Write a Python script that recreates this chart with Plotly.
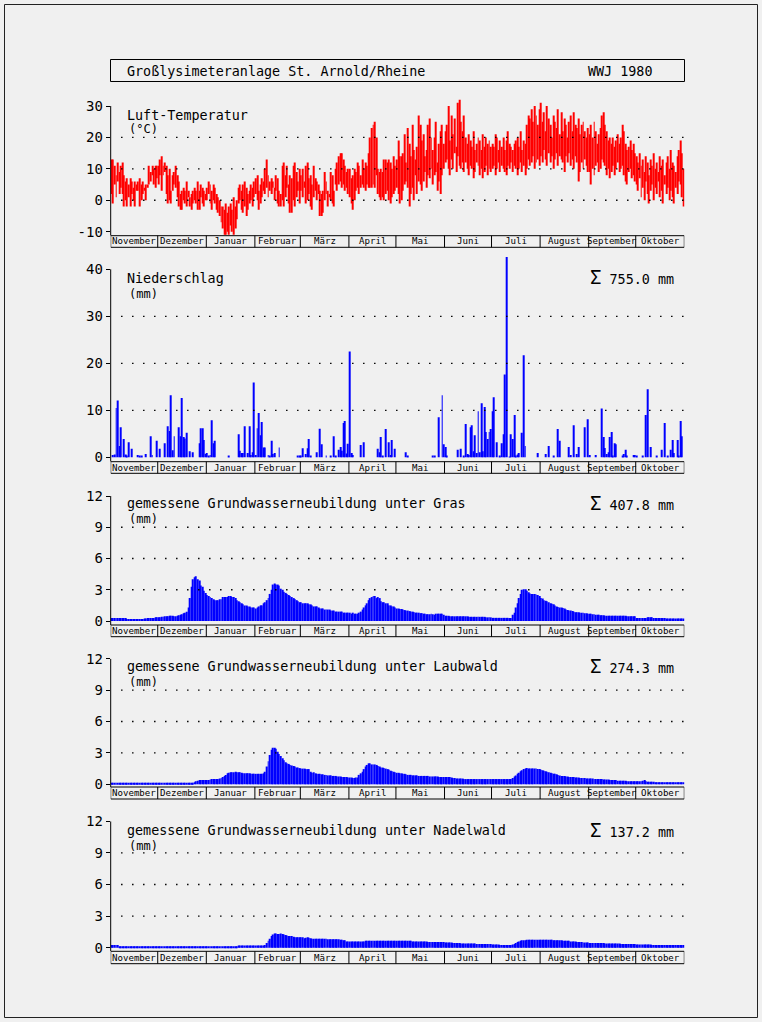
import plotly.graph_objects as go

W, H = 762, 1022

# ---------------- data ----------------
MONTHS = ["November", "Dezember", "Januar", "Februar", "März", "April",
          "Mai", "Juni", "Juli", "August", "September", "Oktober"]
MONTH_DAYS = [30, 31, 31, 29, 31, 30, 31, 30, 31, 31, 30, 31]

# Luft-Temperatur, daily max / min (°C)
TMAX_NOV = [13, 13, 11, 8, 12, 9, 11, 12, 8, 6, 7, 5, 7, 6, 4, 6, 5, 6, 7, 5, 6, 4, 5, 5, 11, 9, 11, 10, 11, 11]
TMIN_NOV = [2, -1, 5, 1, 6, 2, 4, 2, -2, 0, -2, 1, -2, 2, 0, -2, 3, 3, -2, 0, 2, 3, 0, 4, 5, 6, 8, 5, 4, 7]
TMAX_DEC = [11, 13, 14, 11, 12, 11, 8, 10, 3, 8, 9, 11, 8, 6, 2, 3, 4, 3, 6, 3, 1, 2, 3, 4, 3, 6, 3, 5, 4, 3, 2]
TMIN_DEC = [5, 8, 3, 8, 9, 2, -1, 0, -1, 3, 5, 4, 1, -2, -3, -3, 0, -1, -2, 1, -2, -3, -1, 0, -1, -3, -3, 1, -1, -2, 0]
TMAX_JAN = [4, 6, 5, 3, 5, 4, 2, 1, 0, -2, -2, -3, -1, -4, -2, -1, -3, 1, -2, 0, 4, 5, 3, 5, 6, 4, 2, 3, 5, 4, 6]
TMIN_JAN = [0, 2, -1, -3, 0, -1, -3, -4, -5, -7, -9, -11, -11, -10, -11, -8, -10, -11, -9, -6, -1, 0, -3, -4, -2, -5, -3, -1, 0, -2, 1]
TMAX_FEB = [7, 8, 3, 5, 7, 6, 10, 13, 8, 6, 7, 6, 4, 8, 7, 3, 2, 11, 12, 8, 11, 5, 8, 7, 11, 12, 9, 6, 10]
TMIN_FEB = [2, 0, -3, -1, 1, 3, 2, 4, 1, 3, 2, 4, 0, 3, -1, -2, -2, 0, -2, 1, 4, -1, -4, -4, 0, -2, 1, 3, -1]
TMAX_MAR = [8, 10, 6, 11, 12, 7, 8, 5, 11, 7, 6, 5, 3, 2, 3, 9, 6, 3, 2, 9, 8, 3, 10, 12, 14, 15, 15, 13, 11, 9, 10]
TMIN_MAR = [3, 1, 4, -1, 0, 2, -2, -3, 1, 3, 0, 2, -5, -5, -4, 0, 2, -2, 1, 0, -1, -2, 5, 3, 5, 6, 4, 5, 3, 4, 2]
TMAX_APR = [10, 7, 8, 10, 9, 12, 11, 8, 13, 10, 12, 11, 15, 20, 23, 24, 25, 20, 10, 9, 10, 9, 13, 13, 12, 13, 12, 10, 14, 11]
TMIN_APR = [1, -1, -3, 0, 3, 4, 2, 4, 5, 4, 3, 5, 4, 4, 4, 5, 4, 8, 2, 1, 0, 1, 0, 2, 3, 0, -1, 1, 2, 3]
TMAX_MAY = [13, 19, 14, 14, 15, 21, 12, 23, 18, 14, 24, 16, 13, 17, 27, 24, 19, 21, 14, 16, 24, 26, 20, 16, 20, 25, 12, 18, 22, 24, 18]
TMIN_MAY = [4, 2, -1, 0, 3, 5, 6, 4, -2, 2, 4, 0, 8, 2, 6, 5, 3, 6, 9, 4, 8, 7, 10, 5, 8, 9, 3, 6, 2, 8, 10]
TMAX_JUN = [22, 24, 30, 19, 27, 21, 26, 17, 31, 32, 25, 22, 27, 20, 18, 21, 19, 17, 22, 16, 18, 20, 19, 16, 21, 17, 20, 18, 19, 17]
TMIN_JUN = [12, 13, 10, 8, 13, 10, 15, 9, 14, 11, 10, 12, 9, 12, 10, 8, 11, 10, 7, 9, 12, 11, 8, 10, 7, 9, 11, 8, 10, 9]
TMAX_JUL = [18, 17, 21, 20, 16, 19, 17, 20, 16, 19, 22, 18, 17, 16, 18, 19, 20, 17, 22, 16, 19, 18, 24, 27, 26, 29, 25, 30, 27, 24, 29]
TMIN_JUL = [10, 11, 8, 10, 12, 9, 11, 10, 9, 8, 11, 10, 12, 9, 11, 10, 8, 10, 12, 9, 11, 8, 10, 13, 11, 12, 14, 10, 12, 13, 11]
TMAX_AUG = [31, 25, 28, 22, 30, 26, 24, 20, 27, 25, 23, 29, 21, 28, 22, 26, 24, 20, 25, 27, 22, 28, 24, 23, 26, 21, 24, 25, 22, 20, 23]
TMIN_AUG = [14, 12, 16, 13, 11, 15, 12, 14, 10, 13, 15, 11, 14, 13, 12, 9, 14, 12, 15, 11, 13, 10, 14, 12, 6, 9, 12, 10, 13, 11, 9]
TMAX_SEP = [21, 24, 20, 25, 22, 18, 21, 23, 27, 28, 24, 22, 19, 20, 18, 20, 17, 19, 21, 18, 20, 24, 22, 18, 16, 17, 19, 16, 18, 15]
TMIN_SEP = [9, 5, 10, 8, 11, 12, 9, 10, 13, 12, 11, 8, 10, 7, 9, 11, 8, 10, 12, 9, 10, 11, 8, 6, 5, 9, 10, 7, 8, 6]
TMAX_OCT = [14, 12, 15, 11, 13, 9, 14, 12, 8, 13, 11, 15, 10, 12, 9, 14, 11, 13, 8, 12, 14, 10, 16, 12, 11, 9, 14, 16, 19, 15, 10]
TMIN_OCT = [5, 3, 7, 1, 4, 0, 6, 2, -1, 3, 5, 0, 4, 2, 6, 1, 3, -1, 5, 2, 4, 0, 3, 1, -1, 4, 2, 6, 5, 1, -2]

# Niederschlag: day index (0 = 1 Nov) and amount (mm)
RAIN_DAY = [1, 2, 3, 4, 5, 6, 8, 9, 10, 11, 13, 17, 18, 19, 22, 25, 26, 29,
            31, 34, 36, 37, 38, 39, 40, 43, 44, 45, 46, 47, 48, 50, 52, 56, 57, 58, 59, 60,
            61, 62, 63, 64, 65, 66, 75, 81, 82, 83, 84, 85, 87, 88, 89, 90, 91,
            92, 93, 94, 95, 96, 97, 98, 100, 101, 102, 103, 104, 107,
            119, 120, 121, 122, 124, 125, 126, 127, 131, 133, 134, 137, 140, 142, 143, 145, 146, 147, 148, 149, 150, 151,
            152, 153, 154, 159, 161, 170, 171, 172, 173, 175, 177, 178, 179, 181,
            188, 189, 205, 206, 209, 211, 212,
            213, 214, 221, 223, 225, 226, 227, 228, 229, 230, 231, 232, 233, 234, 235, 236, 237, 238, 239, 240, 241, 242,
            243, 244, 246, 248, 249, 250, 251, 252, 254, 255, 256, 257, 258, 259, 260, 262, 263, 264, 272,
            277, 279, 282, 285, 286, 292, 293, 295, 297, 298, 302, 304,
            305, 309, 313, 314, 315, 316, 317, 318, 319, 320, 321, 322, 326, 327, 328, 329, 333, 334,
            335, 339, 341, 342, 344, 348, 351, 353, 355, 357, 358, 359, 361, 362, 363, 364]
RAIN_MM = [0.5, 0.6, 10.5, 12.1, 2.4, 6.4, 3.9, 0.6, 0.3, 3.2, 1.8, 0.5, 0.3, 0.2, 0.7, 4.5, 0.5, 3.5,
           1.8, 3.0, 6.6, 5.6, 13.2, 1.5, 4.5, 6.4, 4.5, 12.6, 4.3, 4.0, 5.2, 1.3, 1.1, 3.0, 6.2, 6.2, 3.7, 0.7,
           0.9, 0.3, 0.5, 7.9, 3.0, 3.5, 0.3, 4.9, 1.4, 0.9, 0.9, 6.6, 0.9, 6.6, 0.5, 1.1, 15.9,
           0.5, 6.2, 9.4, 4.7, 7.5, 2.1, 2.1, 0.5, 0.3, 3.5, 0.7, 0.9, 2.1,
           0.3, 0.3, 0.3, 1.9, 0.7, 1.9, 3.9, 0.2, 1.1, 6.1, 2.8, 0.2, 0.3, 4.5, 0.2, 1.6, 2.2, 1.4, 7.3, 7.7, 0.8, 2.9,
           22.5, 0.9, 0.5, 2.6, 3.2, 1.8, 1.1, 4.3, 0.2, 6.0, 3.2, 0.5, 3.7, 1.8,
           1.1, 0.2, 0.2, 0.3, 8.5, 13.2, 2.8,
           2.2, 0.3, 1.6, 1.8, 0.3, 7.1, 0.7, 0.5, 6.4, 6.8, 1.3, 4.7, 0.9, 9.8, 1.1, 11.5, 1.3, 10.7, 5.4, 3.9, 5.4, 6.0,
           9.8, 12.8, 3.2, 0.2, 3.0, 4.9, 17.6, 42.6, 0.1, 4.9, 3.9, 9.0, 0.3, 0.6, 0.9, 5.2, 21.7, 2.4, 0.9,
           0.7, 2.4, 0.3, 6.0, 3.5, 2.2, 0.5, 6.8, 0.7, 2.2, 6.4, 8.1,
           0.5, 0.5, 10.4, 4.3, 2.0, 0.7, 1.1, 4.3, 5.4, 0.2, 3.0, 2.8, 0.2, 0.7, 1.6, 0.2, 0.5, 0.5,
           0.3, 0.3, 9.0, 14.5, 2.2, 0.3, 1.6, 7.3, 0.3, 1.6, 3.7, 0.9, 3.7, 0.3, 7.7, 4.5]

# Grundwasserneubildung unter Gras (mm/d)
GRAS_NOV = [0.3, 0.3, 0.3, 0.3, 0.3, 0.3, 0.3, 0.3, 0.3, 0.3, 0.2, 0.2, 0.2, 0.2, 0.2, 0.2, 0.2, 0.2, 0.2, 0.2,
            0.2, 0.25, 0.25, 0.3, 0.3, 0.3, 0.3, 0.3, 0.35, 0.35]
GRAS_DEC = [0.35, 0.35, 0.4, 0.4, 0.45, 0.45, 0.45, 0.5, 0.5, 0.5, 0.45, 0.45, 0.5, 0.55, 0.6, 0.65, 0.75, 0.8, 0.9, 1.3,
            2.2, 3.3, 4.0, 4.2, 4.3, 4.0, 3.9, 3.4, 3.3, 2.9, 2.7]
GRAS_JAN = [2.5, 2.4, 2.3, 2.2, 2.1, 2.0, 2.0, 2.0, 2.1, 2.1, 2.3, 2.3, 2.3, 2.3, 2.4, 2.4, 2.3, 2.3, 2.2, 2.0,
            1.9, 1.8, 1.7, 1.6, 1.5, 1.5, 1.4, 1.4, 1.3, 1.3, 1.3]
GRAS_FEB = [1.2, 1.3, 1.4, 1.5, 1.5, 1.7, 1.8, 2.0, 2.2, 2.6, 3.0, 3.5, 3.6, 3.5, 3.5, 3.4, 3.1, 3.0, 2.8, 2.7,
            2.6, 2.5, 2.4, 2.3, 2.2, 2.1, 2.0, 1.9, 1.8]
GRAS_MAR = [1.8, 1.7, 1.7, 1.7, 1.7, 1.6, 1.6, 1.5, 1.4, 1.4, 1.4, 1.3, 1.2, 1.2, 1.2, 1.1, 1.1, 1.1, 1.1, 1.0,
            1.0, 1.0, 0.9, 0.9, 0.9, 0.9, 0.9, 0.8, 0.8, 0.8, 0.8]
GRAS_APR = [0.8, 0.7, 0.8, 0.7, 0.7, 0.7, 0.8, 0.9, 1.1, 1.3, 1.5, 1.7, 2.0, 2.2, 2.3, 2.4, 2.4, 2.2, 2.3, 2.2,
            1.9, 1.8, 1.8, 1.7, 1.7, 1.5, 1.5, 1.4, 1.4, 1.3]
GRAS_MAY = [1.2, 1.2, 1.15, 1.15, 1.1, 1.05, 1.0, 1.0, 0.95, 0.9, 0.9, 0.85, 0.8, 0.8, 0.8, 0.75, 0.75, 0.7, 0.7, 0.65,
            0.65, 0.65, 0.7, 0.65, 0.6, 0.7, 0.7, 0.7, 0.7, 0.7, 0.6]
GRAS_JUN = [0.5, 0.5, 0.5, 0.45, 0.45, 0.45, 0.45, 0.45, 0.45, 0.45, 0.45, 0.45, 0.45, 0.45, 0.45, 0.4, 0.4, 0.4, 0.4, 0.4,
            0.4, 0.4, 0.4, 0.4, 0.4, 0.4, 0.35, 0.35, 0.35, 0.35]
GRAS_JUL = [0.3, 0.3, 0.3, 0.3, 0.3, 0.3, 0.3, 0.3, 0.3, 0.3, 0.3, 0.3, 0.3, 0.6, 0.8, 1.3, 1.7, 2.2, 2.6, 3.0,
            3.05, 3.05, 2.9, 2.75, 2.65, 2.6, 2.6, 2.6, 2.55, 2.5, 2.4]
GRAS_AUG = [2.2, 2.15, 2.0, 1.95, 1.9, 1.8, 1.7, 1.65, 1.6, 1.5, 1.4, 1.35, 1.3, 1.3, 1.25, 1.2, 1.1, 1.05, 1.0, 1.0,
            0.95, 0.9, 0.85, 0.85, 0.85, 0.8, 0.8, 0.8, 0.75, 0.75, 0.7]
GRAS_SEP = [0.7, 0.7, 0.65, 0.65, 0.6, 0.6, 0.6, 0.55, 0.55, 0.55, 0.5, 0.5, 0.5, 0.5, 0.5, 0.5, 0.5, 0.5, 0.5, 0.5,
            0.5, 0.5, 0.5, 0.5, 0.45, 0.45, 0.45, 0.45, 0.45, 0.45]
GRAS_OCT = [0.3, 0.3, 0.3, 0.3, 0.3, 0.3, 0.3, 0.35, 0.35, 0.35, 0.35, 0.3, 0.3, 0.3, 0.3, 0.3, 0.3, 0.3, 0.3, 0.25,
            0.25, 0.25, 0.25, 0.25, 0.25, 0.25, 0.25, 0.25, 0.25, 0.25, 0.25]

# Grundwasserneubildung unter Laubwald (mm/d)
LAUB_NOV = [0.15, 0.15, 0.15, 0.15, 0.15, 0.15, 0.15, 0.15, 0.15, 0.15, 0.15, 0.15, 0.15, 0.15, 0.15, 0.15, 0.15, 0.15, 0.15, 0.15,
            0.15, 0.15, 0.15, 0.15, 0.15, 0.15, 0.15, 0.15, 0.15, 0.15]
LAUB_DEC = [0.15, 0.15, 0.15, 0.15, 0.15, 0.15, 0.15, 0.15, 0.15, 0.15, 0.15, 0.15, 0.15, 0.15, 0.15, 0.15, 0.15, 0.15, 0.15, 0.15,
            0.15, 0.15, 0.15, 0.2, 0.3, 0.35, 0.4, 0.4, 0.4, 0.4, 0.4]
LAUB_JAN = [0.4, 0.4, 0.45, 0.5, 0.5, 0.5, 0.5, 0.5, 0.55, 0.6, 0.7, 0.8, 0.9, 1.05, 1.1, 1.15, 1.15, 1.15, 1.2, 1.15,
            1.15, 1.15, 1.1, 1.05, 1.05, 1.05, 1.05, 1.05, 1.0, 1.0, 1.0]
LAUB_FEB = [1.0, 1.0, 1.0, 1.0, 1.0, 1.05, 1.2, 1.7, 2.2, 2.8, 3.3, 3.5, 3.5, 3.4, 3.1, 2.9, 2.7, 2.5, 2.3, 2.1,
            2.0, 1.95, 1.85, 1.8, 1.75, 1.7, 1.6, 1.6, 1.55]
LAUB_MAR = [1.5, 1.5, 1.5, 1.45, 1.45, 1.45, 1.2, 1.1, 1.15, 1.05, 1.0, 1.0, 1.0, 0.95, 0.95, 0.9, 0.9, 0.85, 0.85, 0.85,
            0.8, 0.8, 0.8, 0.75, 0.75, 0.75, 0.7, 0.7, 0.7, 0.7, 0.65]
LAUB_APR = [0.65, 0.65, 0.6, 0.6, 0.65, 0.65, 0.9, 1.05, 1.2, 1.45, 1.7, 1.85, 2.0, 2.0, 1.9, 1.9, 1.9, 1.85, 1.75, 1.7,
            1.6, 1.6, 1.55, 1.5, 1.45, 1.4, 1.3, 1.25, 1.2, 1.15]
LAUB_MAY = [1.1, 1.1, 1.05, 1.05, 1.0, 1.0, 0.95, 0.9, 0.9, 0.9, 0.85, 0.85, 0.85, 0.85, 0.8, 0.8, 0.8, 0.8, 0.8, 0.8,
            0.8, 0.75, 0.75, 0.75, 0.75, 0.75, 0.75, 0.7, 0.7, 0.7, 0.7]
LAUB_JUN = [0.7, 0.7, 0.7, 0.7, 0.65, 0.6, 0.6, 0.55, 0.55, 0.55, 0.55, 0.55, 0.5, 0.5, 0.5, 0.5, 0.5, 0.5, 0.5, 0.5,
            0.5, 0.5, 0.5, 0.5, 0.5, 0.5, 0.5, 0.5, 0.5, 0.5]
LAUB_JUL = [0.5, 0.5, 0.5, 0.5, 0.5, 0.5, 0.5, 0.5, 0.5, 0.5, 0.5, 0.5, 0.5, 0.6, 0.75, 0.85, 1.0, 1.1, 1.25, 1.35,
            1.45, 1.5, 1.55, 1.5, 1.5, 1.5, 1.5, 1.5, 1.5, 1.45, 1.45]
LAUB_AUG = [1.4, 1.35, 1.3, 1.25, 1.2, 1.15, 1.1, 1.05, 1.0, 1.0, 0.95, 0.9, 0.85, 0.8, 0.8, 0.8, 0.75, 0.75, 0.7, 0.7,
            0.7, 0.7, 0.65, 0.65, 0.65, 0.6, 0.6, 0.6, 0.6, 0.55, 0.55]
LAUB_SEP = [0.55, 0.55, 0.55, 0.5, 0.5, 0.5, 0.5, 0.5, 0.5, 0.45, 0.45, 0.45, 0.45, 0.4, 0.4, 0.4, 0.4, 0.4, 0.35, 0.35,
            0.35, 0.35, 0.35, 0.35, 0.3, 0.3, 0.3, 0.3, 0.3, 0.3]
LAUB_OCT = [0.3, 0.3, 0.3, 0.3, 0.35, 0.4, 0.3, 0.25, 0.25, 0.25, 0.25, 0.25, 0.2, 0.2, 0.2, 0.2, 0.2, 0.2, 0.2, 0.2,
            0.2, 0.2, 0.2, 0.2, 0.2, 0.2, 0.2, 0.2, 0.2, 0.2, 0.2]

# Grundwasserneubildung unter Nadelwald (mm/d)
NADEL_NOV = [0.25, 0.25, 0.25, 0.25, 0.25, 0.13, 0.13, 0.13, 0.13, 0.13, 0.13, 0.13, 0.13, 0.13, 0.13, 0.13, 0.13, 0.13, 0.13, 0.13,
             0.13, 0.13, 0.13, 0.13, 0.13, 0.13, 0.13, 0.13, 0.13, 0.13]
NADEL_DEC = [0.13, 0.13, 0.13, 0.13, 0.13, 0.13, 0.13, 0.13, 0.13, 0.13, 0.13, 0.13, 0.13, 0.13, 0.13, 0.13, 0.13, 0.13, 0.13, 0.13,
             0.13, 0.13, 0.13, 0.13, 0.13, 0.13, 0.13, 0.13, 0.13, 0.13, 0.13]
NADEL_JAN = [0.13, 0.13, 0.13, 0.13, 0.13, 0.13, 0.13, 0.13, 0.13, 0.13, 0.13, 0.13, 0.13, 0.13, 0.13, 0.13, 0.13, 0.13, 0.13, 0.13,
             0.22, 0.22, 0.22, 0.22, 0.22, 0.22, 0.22, 0.22, 0.22, 0.22, 0.22]
NADEL_FEB = [0.22, 0.22, 0.22, 0.22, 0.22, 0.22, 0.25, 0.45, 0.65, 0.85, 1.1, 1.25, 1.35, 1.35, 1.3, 1.3, 1.35, 1.3, 1.25, 1.2,
             1.15, 1.1, 1.1, 1.1, 1.05, 1.0, 1.0, 1.0, 1.0]
NADEL_MAR = [1.0, 1.0, 0.9, 0.95, 1.0, 0.95, 0.9, 0.85, 0.85, 0.85, 0.85, 0.85, 0.85, 0.85, 0.85, 0.85, 0.85, 0.8, 0.8, 0.8,
             0.8, 0.8, 0.8, 0.8, 0.8, 0.75, 0.75, 0.7, 0.7, 0.6, 0.6]
NADEL_APR = [0.6, 0.6, 0.6, 0.6, 0.6, 0.6, 0.6, 0.6, 0.6, 0.6, 0.65, 0.65, 0.65, 0.65, 0.65, 0.65, 0.65, 0.65, 0.65, 0.65,
             0.65, 0.65, 0.65, 0.65, 0.65, 0.65, 0.65, 0.65, 0.65, 0.65]
NADEL_MAY = [0.65, 0.65, 0.65, 0.65, 0.65, 0.65, 0.65, 0.65, 0.65, 0.65, 0.6, 0.6, 0.6, 0.6, 0.6, 0.6, 0.6, 0.6, 0.6, 0.6,
             0.55, 0.55, 0.55, 0.55, 0.55, 0.55, 0.55, 0.55, 0.55, 0.55, 0.55]
NADEL_JUN = [0.5, 0.5, 0.5, 0.5, 0.5, 0.45, 0.45, 0.45, 0.45, 0.45, 0.4, 0.4, 0.4, 0.4, 0.4, 0.4, 0.4, 0.4, 0.4, 0.4,
             0.35, 0.35, 0.35, 0.35, 0.35, 0.35, 0.35, 0.35, 0.35, 0.35]
NADEL_JUL = [0.3, 0.3, 0.3, 0.3, 0.3, 0.25, 0.25, 0.25, 0.25, 0.25, 0.25, 0.25, 0.25, 0.3, 0.35, 0.45, 0.55, 0.6, 0.65, 0.7,
             0.7, 0.7, 0.75, 0.75, 0.75, 0.75, 0.75, 0.75, 0.75, 0.75, 0.75]
NADEL_AUG = [0.75, 0.75, 0.75, 0.75, 0.75, 0.75, 0.75, 0.75, 0.7, 0.7, 0.7, 0.7, 0.7, 0.7, 0.65, 0.65, 0.65, 0.65, 0.65, 0.6,
             0.6, 0.6, 0.6, 0.55, 0.55, 0.55, 0.55, 0.5, 0.5, 0.5, 0.5]
NADEL_SEP = [0.45, 0.45, 0.45, 0.45, 0.45, 0.45, 0.45, 0.45, 0.45, 0.45, 0.4, 0.4, 0.4, 0.4, 0.4, 0.4, 0.4, 0.4, 0.4, 0.4,
             0.35, 0.35, 0.35, 0.35, 0.35, 0.35, 0.35, 0.35, 0.35, 0.35]
NADEL_OCT = [0.3, 0.3, 0.3, 0.3, 0.3, 0.3, 0.3, 0.3, 0.3, 0.3, 0.25, 0.25, 0.25, 0.25, 0.25, 0.25, 0.25, 0.25, 0.25, 0.25,
             0.25, 0.25, 0.25, 0.25, 0.25, 0.25, 0.25, 0.25, 0.25, 0.25, 0.25]

TITLE = "Großlysimeteranlage St. Arnold/Rheine"
TITLE_RIGHT = "WWJ 1980"
SUMS = ["755.0", "407.8", "274.3", "137.2"]


def year(*months):
    out = []
    for m, n in zip(months, MONTH_DAYS):
        if len(m) != n:
            raise ValueError("month length %d != %d" % (len(m), n))
        out += m
    return out


TMAX = year(TMAX_NOV, TMAX_DEC, TMAX_JAN, TMAX_FEB, TMAX_MAR, TMAX_APR, TMAX_MAY, TMAX_JUN, TMAX_JUL, TMAX_AUG, TMAX_SEP, TMAX_OCT)
TMIN = year(TMIN_NOV, TMIN_DEC, TMIN_JAN, TMIN_FEB, TMIN_MAR, TMIN_APR, TMIN_MAY, TMIN_JUN, TMIN_JUL, TMIN_AUG, TMIN_SEP, TMIN_OCT)
GRAS = year(GRAS_NOV, GRAS_DEC, GRAS_JAN, GRAS_FEB, GRAS_MAR, GRAS_APR, GRAS_MAY, GRAS_JUN, GRAS_JUL, GRAS_AUG, GRAS_SEP, GRAS_OCT)
LAUB = year(LAUB_NOV, LAUB_DEC, LAUB_JAN, LAUB_FEB, LAUB_MAR, LAUB_APR, LAUB_MAY, LAUB_JUN, LAUB_JUL, LAUB_AUG, LAUB_SEP, LAUB_OCT)
NADEL = year(NADEL_NOV, NADEL_DEC, NADEL_JAN, NADEL_FEB, NADEL_MAR, NADEL_APR, NADEL_MAY, NADEL_JUN, NADEL_JUL, NADEL_AUG, NADEL_SEP, NADEL_OCT)

NDAYS = sum(MONTH_DAYS)
DAYS = [d + 0.5 for d in range(NDAYS)]

# ---------------- layout geometry (pixels) ----------------
X0, X1 = 110.7, 684.3
FONT = "DejaVu Sans Mono"


def py(p):
    return 1 - p / H


def px(p):
    return p / W


# name, vmax, vmin, px of vmax, px of vmin, month-bar top, month-bar bottom, ticks, grid, headroom
PANELS = [
    ("y", 30, -10, 106.0, 231.7, 235.7, 247.3, [-10, 0, 10, 20, 30], [0, 10, 20], 3.0),
    ("y2", 40, 0, 269.3, 457.3, 461.7, 473.3, [0, 10, 20, 30, 40], [10, 20, 30], 4.0),
    ("y3", 12, 0, 496.0, 621.0, 625.0, 636.7, [0, 3, 6, 9, 12], [3, 6, 9], 0.0),
    ("y4", 12, 0, 658.7, 784.3, 787.0, 799.0, [0, 3, 6, 9, 12], [3, 6, 9], 0.0),
    ("y5", 12, 0, 821.3, 947.7, 951.3, 963.7, [0, 3, 6, 9, 12], [3, 6, 9], 0.0),
]

fig = go.Figure()

RED = "#ff0000"
BLUE = "#0000ff"

fig.add_trace(go.Bar(x=DAYS, y=[a - b for a, b in zip(TMAX, TMIN)], base=TMIN, width=0.62,
                     marker=dict(color=RED, line=dict(width=0)), xaxis="x", yaxis="y"))
fig.add_trace(go.Bar(x=[d + 0.5 for d in RAIN_DAY], y=RAIN_MM, width=0.6,
                     marker=dict(color=BLUE, line=dict(width=0)), xaxis="x", yaxis="y2"))
for series, ax in ((GRAS, "y3"), (LAUB, "y4"), (NADEL, "y5")):
    fig.add_trace(go.Bar(x=DAYS, y=series, width=0.62,
                         marker=dict(color=BLUE, line=dict(width=0)), xaxis="x", yaxis=ax))

shapes = []
annotations = []
layout_axes = {}

bounds = [0]
for n in MONTH_DAYS:
    bounds.append(bounds[-1] + n)

for (name, vmax, vmin, ptop, pbot, btop, bbot, ticks, grid, head) in PANELS:
    scale = (pbot - ptop) / (vmax - vmin)
    ext_min = vmin - (btop - pbot) / scale
    ext_max = vmax + head
    top_px = ptop - head * scale
    key = "yaxis" if name == "y" else "yaxis" + name[1:]
    layout_axes[key] = dict(
        domain=[py(btop), py(top_px)], range=[ext_min, ext_max], anchor="x",
        tickvals=ticks, ticktext=[str(t) for t in ticks],
        ticks="outside", ticklen=4, tickcolor="black", tickwidth=1,
        showline=False, showgrid=False, zeroline=False, automargin=False,
        tickfont=dict(family=FONT, size=14, color="black"),
    )
    # axis line from the month bar up to the top tick
    shapes.append(dict(type="line", xref="paper", yref=name, x0=px(X0), x1=px(X0), y0=ext_min, y1=vmax,
                       line=dict(color="black", width=1), layer="above"))
    for g in grid:
        shapes.append(dict(type="line", xref="x", yref=name, x0=6.6, x1=NDAYS, y0=g, y1=g,
                           line=dict(color="black", width=1.3, dash="1.5px,9.5px"), layer="above"))
    # month bar
    shapes.append(dict(type="rect", xref="x", yref="paper", x0=0, x1=NDAYS, y0=py(bbot), y1=py(btop),
                       line=dict(color="black", width=1), fillcolor="rgba(0,0,0,0)"))
    for b in bounds[1:-1]:
        shapes.append(dict(type="line", xref="x", yref="paper", x0=b, x1=b, y0=py(bbot), y1=py(btop),
                           line=dict(color="black", width=1)))
    for i, mname in enumerate(MONTHS):
        annotations.append(dict(x=(bounds[i] + bounds[i + 1]) / 2, y=py((btop + bbot) / 2),
                                xref="x", yref="paper", text=mname, showarrow=False,
                                xanchor="center", yanchor="middle",
                                font=dict(family=FONT, size=9.1, color="black")))

# outer frame and title box
shapes.append(dict(type="rect", xref="paper", yref="paper", x0=px(4.5), x1=px(757.5), y0=py(1017.5), y1=py(4.5),
                   line=dict(color="#222222", width=1)))
shapes.append(dict(type="rect", xref="paper", yref="paper", x0=px(110.5), x1=px(684.5), y0=py(81.5), y1=py(59.5),
                   line=dict(color="black", width=1)))


def text(x, y, s, size=13.4, anchor="left"):
    annotations.append(dict(x=px(x), y=py(y), xref="paper", yref="paper", text=s, showarrow=False,
                            xanchor=anchor, yanchor="middle",
                            font=dict(family=FONT, size=size, color="black")))


text(125, 71, TITLE)
text(655, 71, TITLE_RIGHT, anchor="right")

text(125, 115, "Luft-Temperatur")
text(127, 129.5, "(°C)", size=12)
text(125, 278, "Niederschlag")
text(127, 294, "(mm)", size=12)
labels = ["gemessene Grundwasserneubildung unter Gras",
          "gemessene Grundwasserneubildung unter Laubwald",
          "gemessene Grundwasserneubildung unter Nadelwald"]
for lab, yy in zip(labels, [503, 666, 830]):
    text(125, yy, lab)
    text(127, yy + 16, "(mm)", size=12)

for s, yy in zip(SUMS, [277, 503, 666, 830]):
    text(676, yy, "<span style='font-size:19px'>Σ</span> " + s + " mm", anchor="right")

fig.update_layout(
    template="none",
    width=W, height=H, autosize=False,
    margin=dict(l=0, r=0, t=0, b=0, pad=0, autoexpand=False),
    paper_bgcolor="#f0f0f0", plot_bgcolor="rgba(0,0,0,0)",
    showlegend=False, barmode="overlay",
    font=dict(family=FONT, color="black"),
    xaxis=dict(domain=[px(X0), px(X1)], range=[0, NDAYS], visible=False, fixedrange=True, automargin=False),
    shapes=shapes, annotations=annotations,
    **layout_axes,
)

fig.write_html(
    "out.html",
    config={"displayModeBar": False, "responsive": False},
    post_script="document.body.style.margin='0';document.body.style.padding='0';"
                "document.documentElement.style.overflow='hidden';document.body.style.background='#f0f0f0';",
)
